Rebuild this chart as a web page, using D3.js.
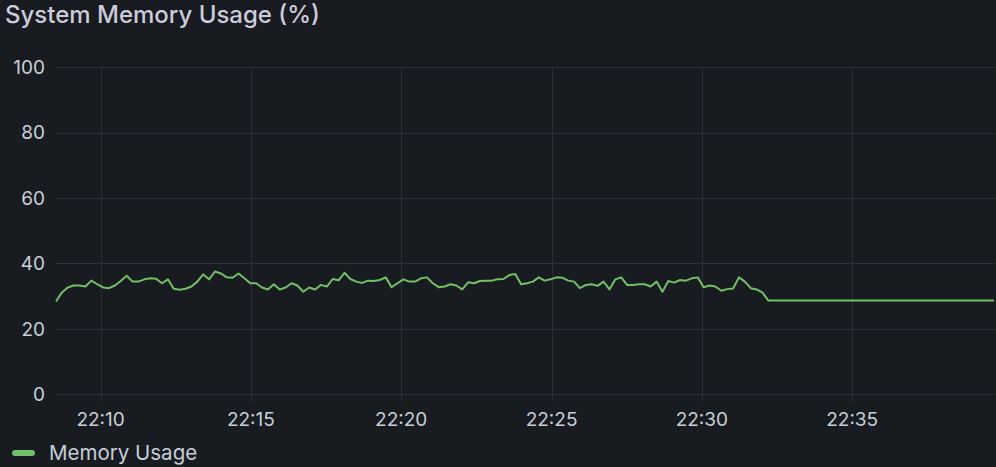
<!DOCTYPE html>
<html>
<head>
<meta charset="utf-8">
<script src="https://cdn.jsdelivr.net/npm/d3@7"></script>
<style>
  html, body { margin: 0; padding: 0; background: #181b1f; }
  svg { display: block; }
  text { font-family: Inter, "Noto Sans", sans-serif; }
</style>
</head>
<body>
<svg id="chart" width="996" height="467"></svg>
<script>
// ---- data ----
const title = "System Memory Usage (%)";
const seriesName = "Memory Usage";
const startTime = "22:08:31";
const endTime = "22:39:43";
const sampleStepSeconds = 11.75;
const memoryValues = [
  28.3, 31.1, 32.6, 33.2, 33.2, 32.9, 34.7, 33.6, 32.6, 32.4, 33.2, 34.6, 36.2, 34.4, 34.4,
  35.1, 35.4, 35.3, 33.9, 35.1, 32.2, 31.9, 32.2, 32.9, 34.4, 36.6, 35.1, 37.5, 36.9, 35.7,
  35.6, 36.9, 35.4, 33.9, 33.9, 32.6, 32.0, 33.6, 32.0, 32.6, 33.9, 33.2, 31.3, 32.6, 32.0,
  33.4, 32.9, 35.2, 34.8, 37.1, 35.2, 34.4, 34.0, 34.7, 34.6, 34.9, 35.7, 32.7, 33.9,
  35.1, 34.4, 34.4, 35.4, 35.7, 33.9, 32.7, 32.9, 33.6, 33.2, 32.0, 34.2, 33.9, 34.6, 34.7,
  34.7, 35.1, 35.2, 36.4, 36.7, 33.6, 33.9, 34.4, 35.7, 34.7, 35.1, 35.7, 35.6, 34.7, 34.4,
  32.4, 33.4,
  33.6, 33.1, 34.4, 32.0, 35.1, 35.7, 33.4, 33.4, 33.6, 33.6, 32.9, 34.4, 31.3, 34.6, 34.1,
  34.9, 34.7, 35.4, 35.7, 32.7, 33.2, 32.9, 31.6, 32.1, 32.3, 35.7, 34.4, 32.4, 32.0, 31.0,
  28.6
];
const tailValue = 28.6;   // flat value held until the end of the range
const yTicks = [0, 20, 40, 60, 80, 100];

// ---- build ----
const parseT = s => { const [h, m, sec] = s.split(":").map(Number); return new Date(2024, 0, 1, h, m, sec); };
const t0 = parseT(startTime), t1 = parseT(endTime);
const points = memoryValues.map((v, i) => ({ t: new Date(t0.getTime() + i * sampleStepSeconds * 1000), v }));
points.push({ t: t1, v: tailValue });

const svg = d3.select("#chart");
const W = 996, H = 467;
const margin = { left: 56, right: 2, top: 67.3, bottom: 73 };

svg.append("rect").attr("width", W).attr("height", H).attr("fill", "#181b1f");

const x = d3.scaleTime().domain([t0, t1]).range([margin.left, W - margin.right]);
const y = d3.scaleLinear().domain([0, 100]).range([H - margin.bottom, margin.top]);

const gridColor = "#2c2f35";
const textColor = "#c7d0d9";

// horizontal grid
svg.append("g").selectAll("line").data(yTicks).join("line")
  .attr("x1", margin.left).attr("x2", W - margin.right)
  .attr("y1", d => Math.round(y(d)) + 0.5).attr("y2", d => Math.round(y(d)) + 0.5)
  .attr("stroke", gridColor).attr("stroke-width", 1);

// vertical grid
const xTicks = x.ticks(d3.timeMinute.every(5));
svg.append("g").selectAll("line").data(xTicks).join("line")
  .attr("x1", d => Math.round(x(d)) + 0.5).attr("x2", d => Math.round(x(d)) + 0.5)
  .attr("y1", margin.top).attr("y2", y(0) + 7)
  .attr("stroke", gridColor).attr("stroke-width", 1);

// y labels
svg.append("g").selectAll("text").data(yTicks).join("text")
  .attr("x", 45).attr("y", d => y(d)).attr("dy", "0.36em")
  .attr("text-anchor", "end").attr("fill", textColor)
  .attr("font-size", 19).text(d => d);

// x labels
const fmt = d3.timeFormat("%H:%M");
svg.append("g").selectAll("text").data(xTicks).join("text")
  .attr("x", d => x(d)).attr("y", 425.5)
  .attr("text-anchor", "middle").attr("fill", textColor)
  .attr("font-size", 19).text(d => fmt(d));

// line
const line = d3.line().x(d => x(d.t)).y(d => y(d.v));
svg.append("path").datum(points)
  .attr("d", line).attr("fill", "none")
  .attr("stroke", "#73bf69").attr("stroke-width", 2)
  .attr("stroke-linejoin", "round");

// title
svg.append("text").attr("x", 5).attr("y", 23)
  .attr("fill", "#ccccdc").attr("font-size", 24).attr("font-weight", 500)
  .text(title);

// legend
svg.append("rect").attr("x", 12).attr("y", 450).attr("width", 23).attr("height", 6).attr("rx", 3)
  .attr("fill", "#73bf69");
svg.append("text").attr("x", 49).attr("y", 460)
  .attr("fill", textColor).attr("font-size", 20.5).text(seriesName);
</script>
</body>
</html>
